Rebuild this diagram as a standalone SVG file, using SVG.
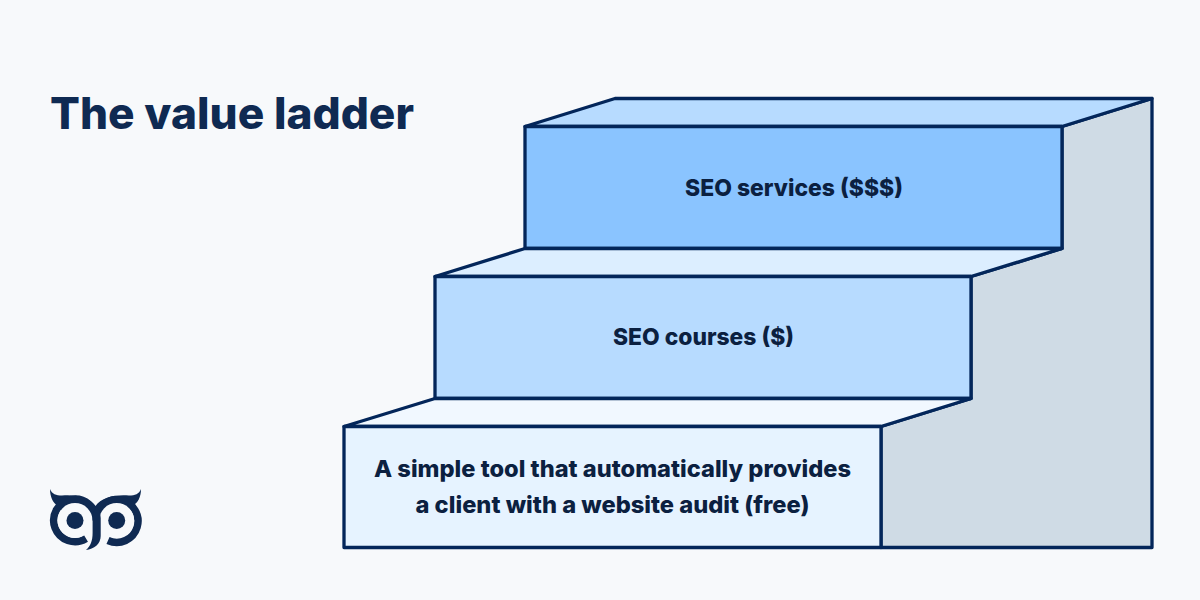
<svg xmlns="http://www.w3.org/2000/svg" width="1200" height="600" viewBox="0 0 1200 600">
<style>
.s{stroke:#03265a;stroke-width:3.300;stroke-linejoin:round}
.t{font-family:"Inter","Liberation Sans",sans-serif;font-weight:800;fill:#0b2040;text-anchor:middle}
.l{font-size:23.500px}
.ring{fill:none;stroke:#0f2a52;stroke-width:7.500}
.logo{fill:#0f2a52}
</style>
<rect width="1200" height="600" fill="#f7f9fb"/>
<text class="t" x="50" y="128.500" font-size="44" style="text-anchor:start;fill:#0f2a52" textLength="364" lengthAdjust="spacingAndGlyphs">The value ladder</text>
<g id="wall"><path class="s" d="M1152 98.500V547.500H881V426.500L971 398.500V276.500L1062 248.500V126.500Z" fill="#cfdbe5"/></g>
<g id="step-top">
<path class="s" d="M525 126.500L615 98.500H1152L1062 126.500Z" fill="#b7dbff"/>
<rect class="s" x="525" y="126.500" width="537" height="122" fill="#8ac4ff"/>
<text class="t l" x="794" y="196" textLength="218" lengthAdjust="spacingAndGlyphs">SEO services ($$$)</text>
</g>
<g id="step-middle">
<path class="s" d="M435 276.500L525 248.500H1062L971 276.500Z" fill="#dceeff"/>
<rect class="s" x="435" y="276.500" width="536" height="122" fill="#b7dbff"/>
<text class="t l" x="703.500" y="345" textLength="181" lengthAdjust="spacingAndGlyphs">SEO courses ($)</text>
</g>
<g id="step-bottom">
<path class="s" d="M344 426.500L435 398.500H971L881 426.500Z" fill="#f1f8ff"/>
<rect class="s" x="344" y="426.500" width="537" height="121" fill="#e6f3ff"/>
<text class="t l" x="612.500" y="477" textLength="477" lengthAdjust="spacingAndGlyphs">A simple tool that automatically provides</text>
<text class="t l" x="612.500" y="513" textLength="394" lengthAdjust="spacingAndGlyphs">a client with a website audit (free)</text>
</g>
<g id="logo" class="logo">
<path d="M50 489C52 494 56 495.500 62 495.500C76 494.500 89 497 95.500 506C102 497 115 494.500 129 495.500C135 495.500 139 494 141 489C141 497 138 503 132 506L120 520H70L58 506C53 503 50 497 50 489Z"/>
<path class="ring" d="M86 538.500A21.250 21.250 0 1 1 96.200 520.500"/>
<path class="ring" d="M108 540.500A21.250 21.250 0 1 0 95.500 520.500"/>
<circle cx="75" cy="520.500" r="17.500" fill="#f7f9fb"/>
<circle cx="116.700" cy="520.500" r="17.500" fill="#f7f9fb"/>
<path d="M92.600 518C93.500 511 96 507 96.500 507C97 507 100.500 511 100.700 518V536C100.700 544 94 549 86 550C90.500 546 92.600 541 92.600 533Z"/>
<circle cx="75" cy="520.500" r="8.500"/>
<circle cx="116.700" cy="520.500" r="8.500"/>
</g>
</svg>
